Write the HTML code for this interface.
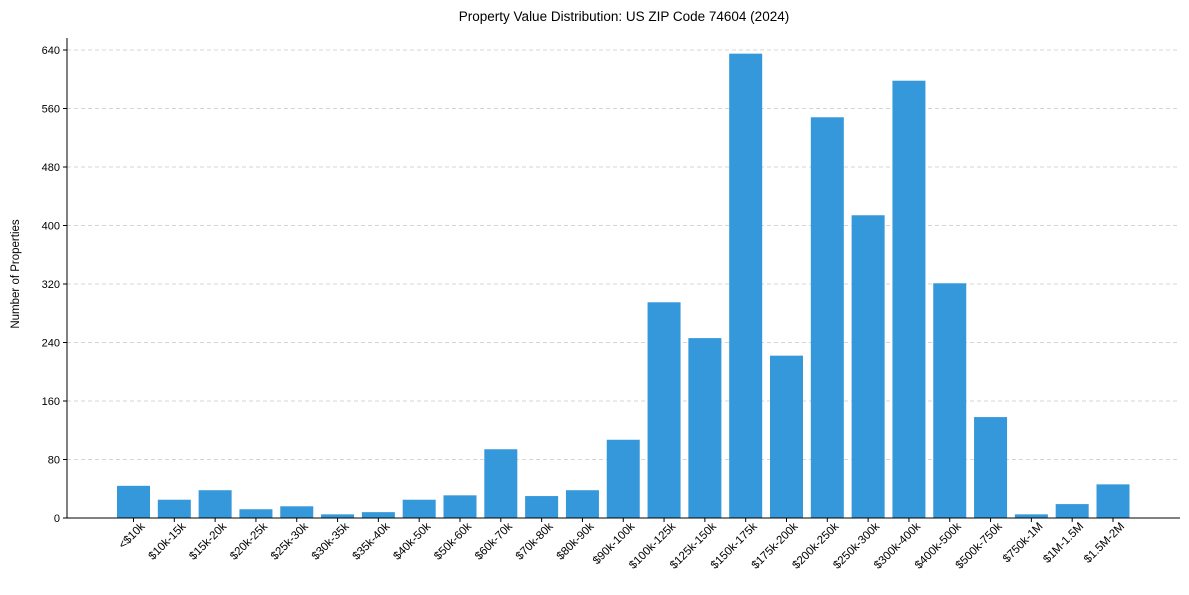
<!DOCTYPE html>
<html><head><meta charset="utf-8"><style>
body{margin:0;background:#fff;}
svg text{font-family:"Liberation Sans",Arial,sans-serif;fill:#000;}
</style></head><body>
<svg id="chart" width="1189" height="590">
<text x="624" y="21" font-size="13.5" text-anchor="middle">Property Value Distribution: US ZIP Code 74604 (2024)</text>
<text transform="translate(19,274) rotate(-90)" font-size="11.5" text-anchor="middle">Number of Properties</text>
<g id="grid"></g><g id="bars"></g><g id="axes"></g>
</svg>
<script>
const categories=["<$10k","$10k-15k","$15k-20k","$20k-25k","$25k-30k","$30k-35k","$35k-40k","$40k-50k","$50k-60k","$60k-70k","$70k-80k","$80k-90k","$90k-100k","$100k-125k","$125k-150k","$150k-175k","$175k-200k","$200k-250k","$250k-300k","$300k-400k","$400k-500k","$500k-750k","$750k-1M","$1M-1.5M","$1.5M-2M"];
const counts=[44,25,38,12,16,5,8,25,31,94,30,38,107,295,246,635,222,548,414,598,321,138,5,19,46];
const yTicks=[0,80,160,240,320,400,480,560,640];
const NS="http://www.w3.org/2000/svg";
const x0=67,x1=1180,y0=518,yTop=50;
function yScale(v){return y0-(v/640)*(y0-yTop);}
const step=(1113-133.5)/24;
function xScale(i){return 133.5+i*step;}
function mk(t,a,p){const e=document.createElementNS(NS,t);for(const k in a)e.setAttribute(k,a[k]);p.appendChild(e);return e;}
const grid=document.getElementById('grid'),bars=document.getElementById('bars'),axes=document.getElementById('axes');
yTicks.forEach(v=>{
  const y=yScale(v);
  if(v>0){const g=mk('line',{x1:x0,x2:x1,y1:y,y2:y,stroke:'#c8c8c8','stroke-dasharray':'4,3','stroke-width':0.8},grid);
  
  }
  mk('line',{x1:x0-4,x2:x0,y1:y,y2:y,stroke:'#000'},axes);
  const t=mk('text',{x:x0-7,y:y+4,'font-size':11,'text-anchor':'end'},axes);t.textContent=v;
  
  
});
const bw=33;
categories.forEach((c,i)=>{
  const cx=xScale(i),y=yScale(counts[i]);
  const r=mk('rect',{x:cx-bw/2,y:y,width:bw,height:y0-y,fill:'#3498db'},bars);
  
  
  mk('line',{x1:cx,x2:cx,y1:y0,y2:y0+4,stroke:'#000'},axes);
  const t=mk('text',{transform:`translate(${cx+12},${y0+9}) rotate(-45)`,'font-size':11.5,'text-anchor':'end'},axes);
  t.textContent=c;
  
  
});
const ya=mk('line',{x1:x0,x2:x0,y1:38,y2:y0,stroke:'#000'},axes);


const xa=mk('line',{x1:x0,x2:x1,y1:y0,y2:y0,stroke:'#000'},axes);


</script>
</body></html>
